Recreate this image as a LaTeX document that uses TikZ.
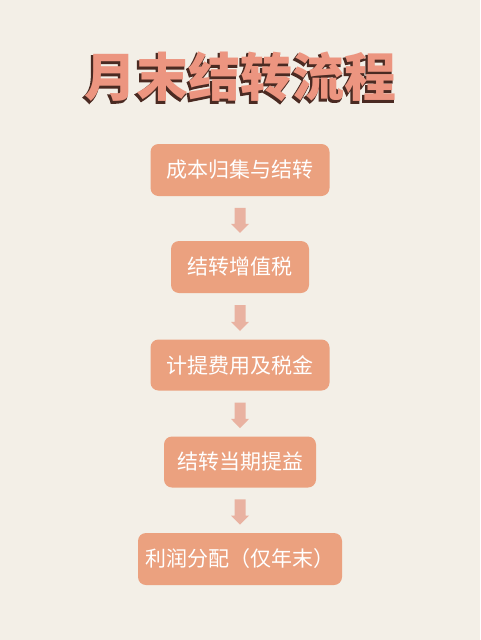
\documentclass[tikz,border=0pt]{standalone}
\usepackage{fontspec}
\newfontfamily\cjk{Noto Sans CJK SC}
\newfontfamily\ttlshadow{Noto Sans CJK SC}[BoldFeatures={FakeBold=3}]
\definecolor{bg}{HTML}{F3EFE7}
\definecolor{boxc}{HTML}{EBA17F}
\definecolor{arrc}{HTML}{E9B2A1}
\definecolor{titlec}{HTML}{EC9580}
\definecolor{titled}{HTML}{4A2A22}
\tikzset{
  stepbox/.style={fill=boxc, rounded corners=8pt, text=white, font=\cjk\fontsize{21}{23}\selectfont, anchor=center, inner sep=0pt},
  ttl/.style={font=\cjk\bfseries\fontsize{52}{56}\selectfont, inner sep=0pt},
  ttlsh/.style={font=\ttlshadow\bfseries\fontsize{52}{56}\selectfont, inner sep=0pt}
}
\begin{document}
\begin{tikzpicture}[x=1pt,y=-1pt]
\fill[bg] (0,0) rectangle (480,640);
\useasboundingbox (0,0) rectangle (480,640);
% title with shadow/outline
\node[ttlsh, text=titled] (titleshadow) at (238.5,78.5) {月末结转流程};
\node[ttl, text=titlec] (title) at (240,77) {月末结转流程};
% boxes
\node[stepbox, minimum width=179pt, minimum height=52pt] (b1) at (240,170) {成本归集与结转};
\node[stepbox, minimum width=138pt, minimum height=52pt] (b2) at (240,267) {结转增值税};
\node[stepbox, minimum width=179pt, minimum height=51pt] (b3) at (240,365) {计提费用及税金};
\node[stepbox, minimum width=152pt, minimum height=51pt] (b4) at (240,462) {结转当期提益};
\node[stepbox, minimum width=204pt, minimum height=52pt] (b5) at (240,559) {利润分配（仅年末）};
% arrows
\foreach \a/\b in {b1/b2,b2/b3,b3/b4,b4/b5}{
  \path (\a.south) -- (\b.north) coordinate[pos=0.26] (s) coordinate[pos=0.62] (m) coordinate[pos=0.82] (e);
  \fill[arrc] ([xshift=-5.5pt]s) -- ([xshift=5.5pt]s) -- ([xshift=5.5pt]m) -- ([xshift=9pt]m) -- (e) -- ([xshift=-9pt]m) -- ([xshift=-5.5pt]m) -- cycle;
}
\end{tikzpicture}
\end{document}
